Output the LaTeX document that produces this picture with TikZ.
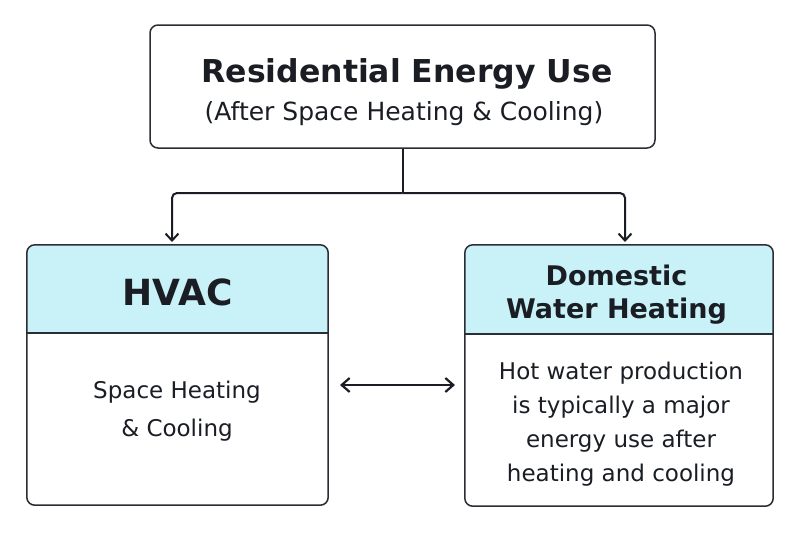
\documentclass[tikz,border=0pt]{standalone}
\usepackage{fontspec}
\setmainfont{DejaVu Sans}
\usetikzlibrary{arrows.meta,calc}
\definecolor{hdr}{HTML}{C8F1F8}
\definecolor{edge}{HTML}{2A2D33}
\definecolor{ink}{HTML}{1A1D24}
\tikzset{
  box/.style={draw=edge,line width=1.5pt,rounded corners=8pt,inner sep=0pt},
  conn/.style={draw=ink,line width=2pt,-{Straight Barb[length=7pt,width=13pt,line width=2pt]},rounded corners=5pt},
  dconn/.style={draw=ink,line width=2.2pt,{Straight Barb[length=8pt,width=14pt,line width=2.2pt]}-{Straight Barb[length=8pt,width=14pt,line width=2.2pt]}},
  txt/.style={text=ink,align=center,inner sep=0pt}
}
\begin{document}
\begin{tikzpicture}[x=1pt,y=-1pt]
\useasboundingbox[fill=white] (0,0) rectangle (800,533);
% top box
\node[box,minimum width=505pt,minimum height=123pt] (top) at (402.5,86.5) {};
\node[txt,anchor=base,font=\fontsize{31.5}{35}\selectfont\bfseries] (title) at (407,82) {Residential Energy Use};
\node[txt,anchor=base,font=\fontsize{25}{29}\selectfont] (sub) at (404,120) {(After Space Heating \& Cooling)};
% left box
\node[minimum width=301pt,minimum height=260pt,inner sep=0pt] (hvac) at (177.5,375) {};
\begin{scope}
\clip[rounded corners=8pt] (hvac.south west) rectangle (hvac.north east);
\fill[hdr] (hvac.north west) rectangle ($(hvac.north east)+(0,88)$);
\end{scope}
\draw[edge,line width=1.5pt] ($(hvac.north west)+(0,88)$) -- ($(hvac.north east)+(0,88)$);
\draw[box] (hvac.south west) rectangle (hvac.north east);
\node[txt,anchor=base,font=\fontsize{36}{40}\selectfont\bfseries] (hvt) at (177.5,305) {HVAC};
\node[txt,font=\fontsize{23}{38}\selectfont] (hvb) at (177,411) {Space Heating\\\& Cooling};
% right box
\node[minimum width=308pt,minimum height=261pt,inner sep=0pt] (dwh) at (619,375.5) {};
\begin{scope}
\clip[rounded corners=8pt] (dwh.south west) rectangle (dwh.north east);
\fill[hdr] (dwh.north west) rectangle ($(dwh.north east)+(0,89)$);
\end{scope}
\draw[edge,line width=1.5pt] ($(dwh.north west)+(0,89)$) -- ($(dwh.north east)+(0,89)$);
\draw[box] (dwh.south west) rectangle (dwh.north east);
\node[txt,font=\fontsize{27}{33}\selectfont\bfseries] (dwt) at (616.5,295) {Domestic\\Water Heating};
\node[txt,font=\fontsize{23}{34}\selectfont] (dwb) at (621,424.5) {Hot water production\\is typically a major\\energy use after\\heating and cooling};
% connectors
\coordinate (j) at (402.5,193);
\coordinate (la) at (172,242);
\coordinate (ra) at (625,242);
\draw[draw=ink,line width=2pt] (top.south) -- (j);
\draw[conn] (j) -| (la);
\draw[conn] (j) -| (ra);
\coordinate (dl) at (340,385);
\coordinate (dr) at (455,385);
\draw[dconn] (dl) -- (dr);
\end{tikzpicture}
\end{document}
